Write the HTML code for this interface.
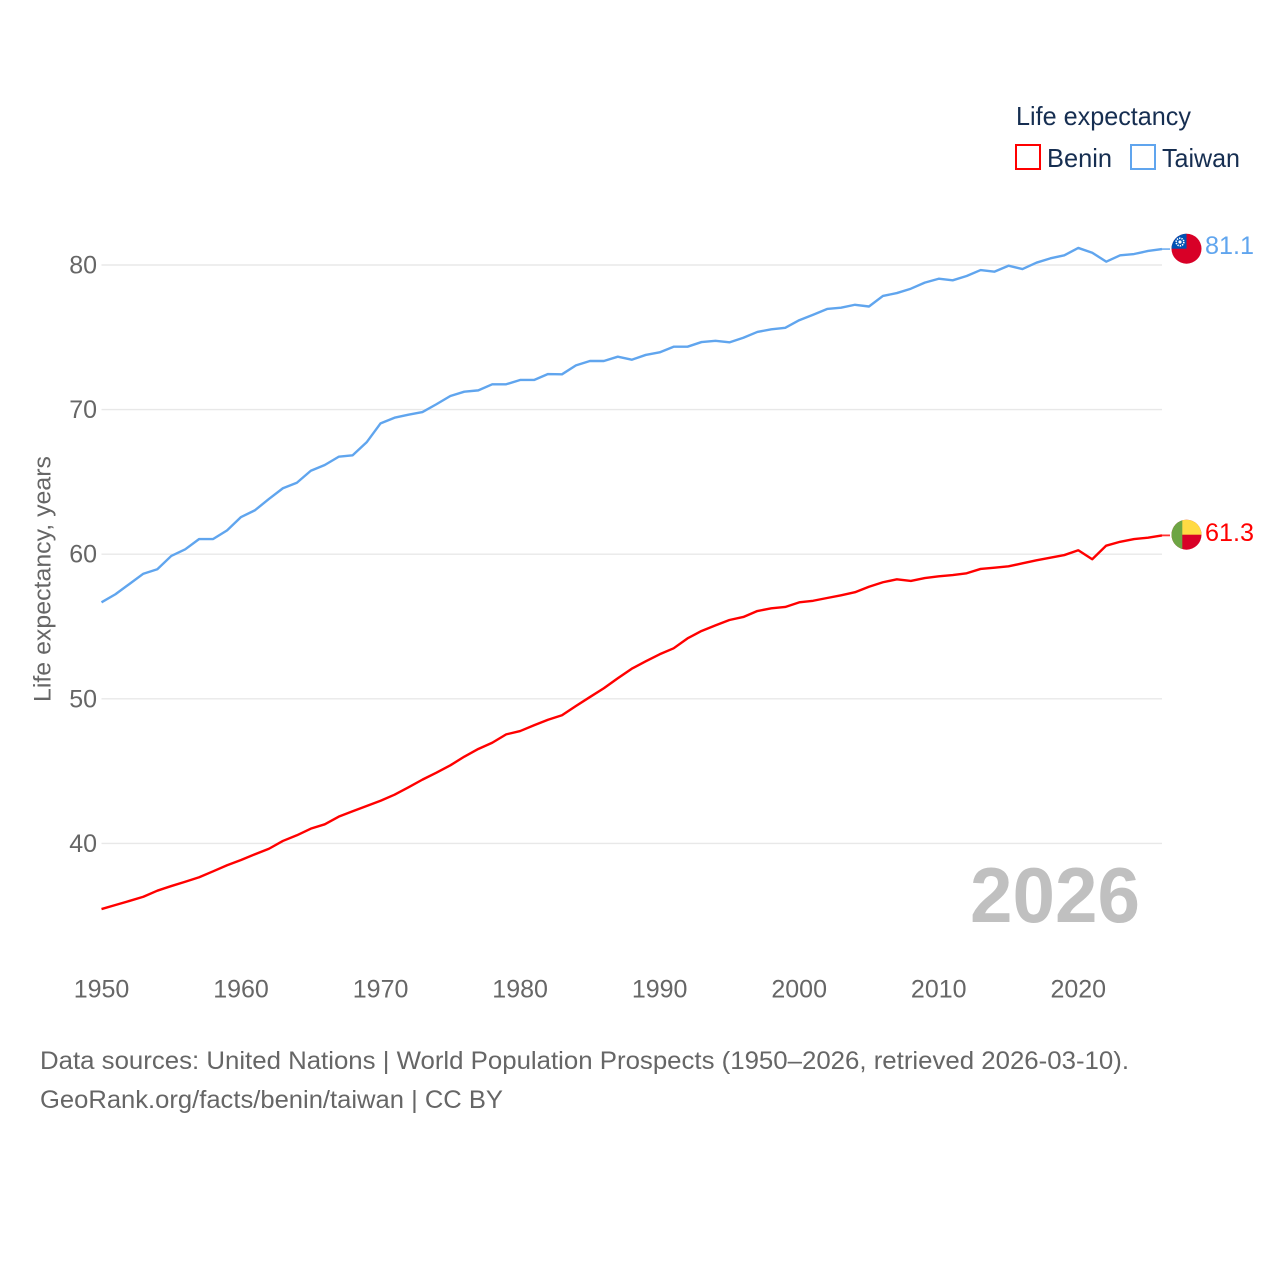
<!DOCTYPE html>
<html lang="en">
<head>
<meta charset="utf-8">
<title>Life expectancy: Benin and Taiwan</title>
<style>
  html, body { margin: 0; padding: 0; background: #ffffff; }
  svg { display: block; font-family: "Liberation Sans", Arial, sans-serif; }
</style>
</head>
<body>
<svg id="chart" width="1280" height="1280" viewBox="0 0 1280 1280" xmlns="http://www.w3.org/2000/svg">
  <rect x="0" y="0" width="1280" height="1280" fill="#ffffff"/>
  <defs>
    <clipPath id="flag-clip-taiwan"><circle cx="1186.5" cy="248.7" r="15"/></clipPath>
    <clipPath id="flag-clip-benin"><circle cx="1186.5" cy="534.7" r="15"/></clipPath>
  </defs>

  <g id="grid"></g>
  <g id="x-axis"></g>
  <g id="y-axis"></g>
  <g id="series"></g>

  <text transform="translate(50.5 702) rotate(-90)" font-size="24.5" fill="#666666" textLength="246" lengthAdjust="spacingAndGlyphs">Life expectancy, years</text>

  <text x="970" y="922" font-size="78" font-weight="700" fill="#c0c0c0" textLength="170" lengthAdjust="spacingAndGlyphs">2026</text>

  <g>
    <text x="1016" y="125" font-size="26" fill="#162e51" textLength="175" lengthAdjust="spacingAndGlyphs">Life expectancy</text>
    <rect x="1016" y="145" width="24" height="24" fill="#ffffff" stroke="#ff0000" stroke-width="2"/>
    <text x="1047" y="167" font-size="26" fill="#162e51" textLength="65" lengthAdjust="spacingAndGlyphs">Benin</text>
    <rect x="1131" y="145" width="24" height="24" fill="#ffffff" stroke="#60a5ee" stroke-width="2"/>
    <text x="1162" y="167" font-size="26" fill="#162e51" textLength="78" lengthAdjust="spacingAndGlyphs">Taiwan</text>
  </g>

  <g clip-path="url(#flag-clip-taiwan)">
    <rect x="1171" y="233" width="31" height="32" fill="#d80027"/>
    <rect x="1171" y="233" width="15.5" height="15.7" fill="#0052b4"/>
    <circle cx="1180" cy="242" r="3.8" fill="none" stroke="#ffffff" stroke-width="1.6" stroke-dasharray="1.4 1"/>
    <circle cx="1180" cy="242" r="1.6" fill="#ffffff"/>
  </g>
  <g clip-path="url(#flag-clip-benin)">
    <rect x="1171" y="519" width="31" height="32" fill="#d80027"/>
    <rect x="1182" y="519" width="20" height="15.7" fill="#ffda44"/>
    <rect x="1171" y="519" width="11.3" height="32" fill="#6da544"/>
  </g>

  <text x="1205" y="254" font-size="25" fill="#60a5ee" textLength="49" lengthAdjust="spacingAndGlyphs">81.1</text>
  <text x="1205" y="541" font-size="25" fill="#ff0000" textLength="49" lengthAdjust="spacingAndGlyphs">61.3</text>

  <g>
    <text x="40" y="1069" font-size="25" fill="#666666" textLength="1089" lengthAdjust="spacingAndGlyphs">Data sources: United Nations | World Population Prospects (1950–2026, retrieved 2026-03-10).</text>
    <text x="40" y="1108" font-size="25" fill="#666666" textLength="463" lengthAdjust="spacingAndGlyphs">GeoRank.org/facts/benin/taiwan | CC BY</text>
  </g>
</svg>

<script>
const years = [1950,1951,1952,1953,1954,1955,1956,1957,1958,1959,1960,1961,1962,1963,1964,1965,1966,1967,1968,1969,1970,1971,1972,1973,1974,1975,1976,1977,1978,1979,1980,1981,1982,1983,1984,1985,1986,1987,1988,1989,1990,1991,1992,1993,1994,1995,1996,1997,1998,1999,2000,2001,2002,2003,2004,2005,2006,2007,2008,2009,2010,2011,2012,2013,2014,2015,2016,2017,2018,2019,2020,2021,2022,2023,2024,2025,2026];
const taiwanValues = [56.67,57.23,57.94,58.65,58.96,59.88,60.34,61.05,61.05,61.65,62.57,63.04,63.82,64.56,64.94,65.77,66.17,66.74,66.84,67.74,69.05,69.44,69.65,69.83,70.37,70.94,71.24,71.33,71.75,71.75,72.05,72.05,72.46,72.44,73.06,73.36,73.36,73.66,73.45,73.78,73.96,74.35,74.35,74.67,74.76,74.65,74.97,75.37,75.55,75.66,76.18,76.56,76.96,77.05,77.25,77.13,77.86,78.06,78.36,78.78,79.05,78.94,79.24,79.65,79.54,79.95,79.72,80.16,80.46,80.67,81.18,80.85,80.23,80.67,80.76,80.97,81.1];
const beninValues = [35.46,35.74,36.02,36.31,36.73,37.05,37.35,37.66,38.07,38.49,38.85,39.25,39.63,40.17,40.56,41.02,41.32,41.85,42.22,42.59,42.95,43.37,43.88,44.41,44.89,45.4,46,46.53,46.96,47.54,47.77,48.17,48.55,48.86,49.5,50.12,50.73,51.42,52.08,52.59,53.08,53.49,54.18,54.69,55.08,55.45,55.66,56.07,56.26,56.35,56.67,56.78,56.97,57.16,57.37,57.75,58.06,58.26,58.15,58.35,58.47,58.56,58.68,58.98,59.07,59.16,59.37,59.58,59.76,59.94,60.27,59.65,60.59,60.86,61.05,61.14,61.3];
const yTickValues = [40, 50, 60, 70, 80];
const xTickValues = [1950, 1960, 1970, 1980, 1990, 2000, 2010, 2020];

const SVG_NS = 'http://www.w3.org/2000/svg';
const xScale = function (year) { return 101.5 + (year - 1950) * (1162 - 101.5) / (2026 - 1950); };
const yScale = function (value) { return 843.4 - (value - 40) * 14.46; };

const gridGroup = document.getElementById('grid');
const xAxisGroup = document.getElementById('x-axis');
const yAxisGroup = document.getElementById('y-axis');
const seriesGroup = document.getElementById('series');

yTickValues.forEach(function (tick) {
  const line = document.createElementNS(SVG_NS, 'line');
  
  
  line.setAttribute('x1', xScale(1950));
  line.setAttribute('x2', xScale(2026));
  line.setAttribute('y1', yScale(tick));
  line.setAttribute('y2', yScale(tick));
  line.setAttribute('stroke', '#e8e8e8');
  line.setAttribute('stroke-width', '1.4');
  gridGroup.appendChild(line);

  const label = document.createElementNS(SVG_NS, 'text');
  
  
  label.setAttribute('x', 97);
  label.setAttribute('y', yScale(tick) + 8.5);
  label.setAttribute('text-anchor', 'end');
  label.setAttribute('font-size', '25');
  label.setAttribute('fill', '#666666');
  label.textContent = String(tick);
  yAxisGroup.appendChild(label);
});

xTickValues.forEach(function (tick) {
  const label = document.createElementNS(SVG_NS, 'text');
  
  
  label.setAttribute('x', xScale(tick));
  label.setAttribute('y', 997.5);
  label.setAttribute('text-anchor', 'middle');
  label.setAttribute('font-size', '25');
  label.setAttribute('fill', '#666666');
  label.textContent = String(tick);
  xAxisGroup.appendChild(label);
});

function drawSeries(name, values, color) {
  const points = values.map(function (value, i) {
    return xScale(years[i]).toFixed(2) + ',' + yScale(value).toFixed(2);
  }).join(' ');

  const path = document.createElementNS(SVG_NS, 'polyline');
  
  
  path.setAttribute('points', points);
  path.setAttribute('fill', 'none');
  path.setAttribute('stroke', color);
  path.setAttribute('stroke-width', '2.4');
  path.setAttribute('stroke-linejoin', 'round');
  seriesGroup.appendChild(path);

  const lastValue = values[values.length - 1];
  const connector = document.createElementNS(SVG_NS, 'line');
  
  
  connector.setAttribute('x1', xScale(2026));
  connector.setAttribute('x2', xScale(2026) + 8);
  connector.setAttribute('y1', yScale(lastValue));
  connector.setAttribute('y2', yScale(lastValue));
  connector.setAttribute('stroke', color);
  connector.setAttribute('stroke-width', '1.8');
  connector.setAttribute('stroke-opacity', '0.8');
  seriesGroup.appendChild(connector);
}

drawSeries('benin', beninValues, '#ff0000');
drawSeries('taiwan', taiwanValues, '#60a5ee');
</script>
</body>
</html>
